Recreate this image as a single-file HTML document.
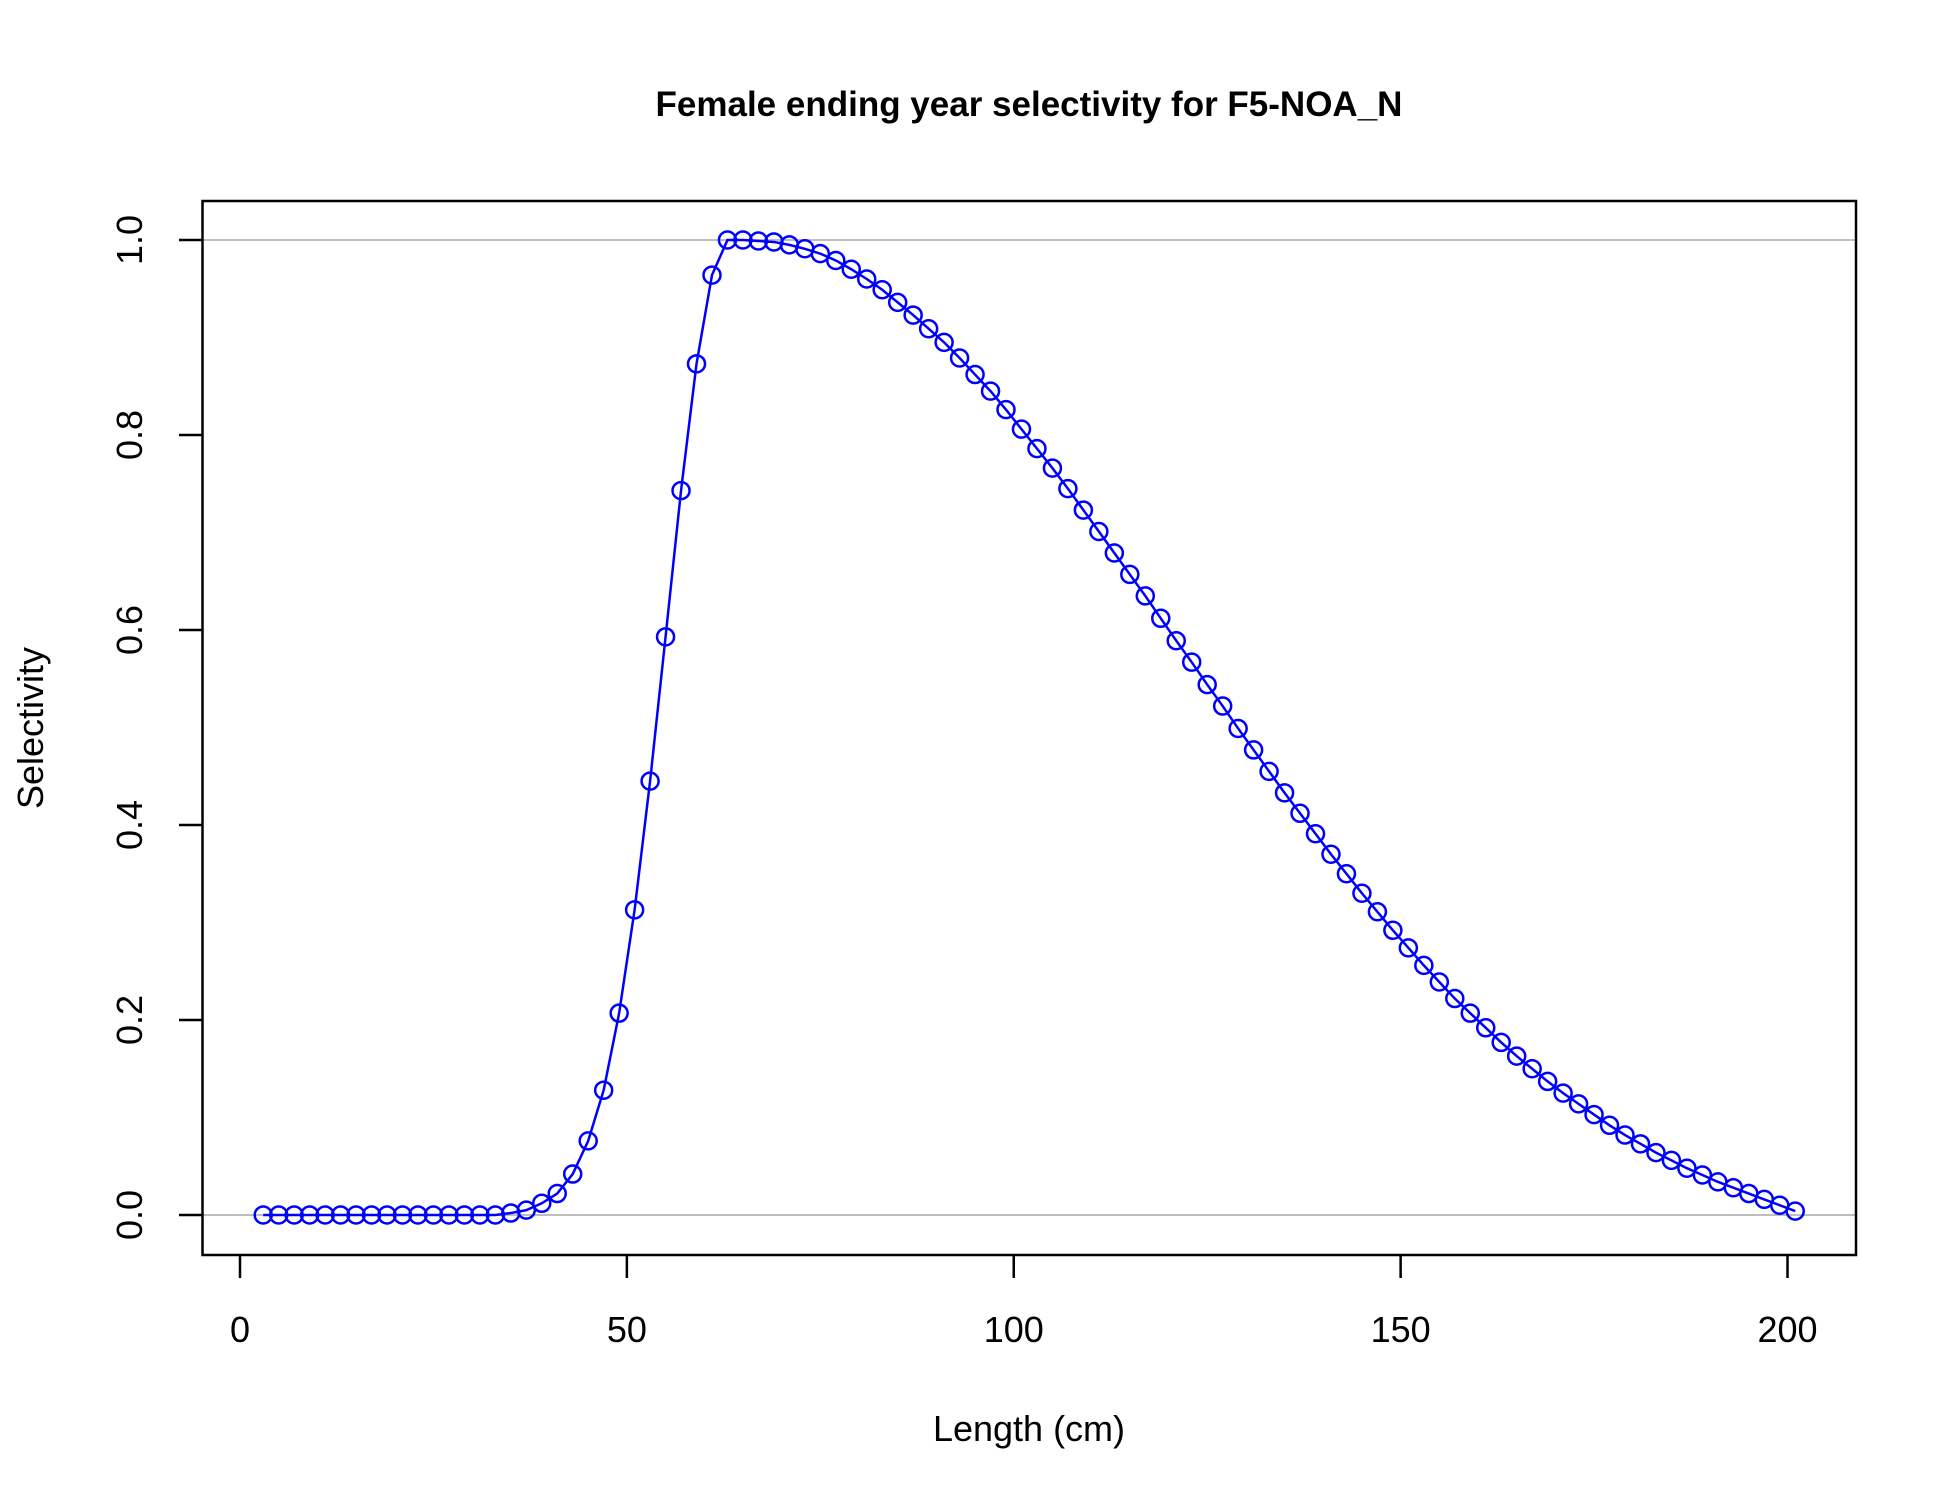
<!DOCTYPE html>
<html><head><meta charset="utf-8"><style>body{margin:0;background:#fff}svg{display:block}text{font-family:"Liberation Sans",Arial,sans-serif}</style></head>
<body>
<svg id="chart" width="1950" height="1500" xmlns="http://www.w3.org/2000/svg">
<rect width="1950" height="1500" fill="#fff"/>
<text x="1029" y="116" text-anchor="middle" font-size="35" font-weight="bold">Female ending year selectivity for F5-NOA_N</text>
<g id="grid"></g><g id="axes"></g><g id="series"></g>
<rect x="202.5" y="201" width="1653.5" height="1054" fill="none" stroke="#000" stroke-width="2.5"/>
<text x="1029" y="1441" text-anchor="middle" font-size="36">Length (cm)</text>
<text transform="translate(43,728) rotate(-90)" text-anchor="middle" font-size="36">Selectivity</text>
</svg>
<script>
const lengths=[];for(let l=3;l<=201;l+=2)lengths.push(l);
const selectivity=[0,0,0,0,0,0,0,0,0,0,0,0,0,0,0,0,0.002,0.005,0.012,0.022,0.042,0.076,0.128,0.207,0.313,0.445,0.593,0.743,0.873,0.964,1.0,1.0,0.999,0.998,0.995,0.991,0.986,0.979,0.970,0.960,0.949,0.936,0.923,0.909,0.895,0.879,0.862,0.845,0.826,0.806,0.786,0.766,0.745,0.723,0.701,0.679,0.657,0.635,0.612,0.589,0.567,0.544,0.522,0.499,0.477,0.455,0.433,0.412,0.391,0.370,0.350,0.330,0.311,0.292,0.274,0.256,0.239,0.222,0.207,0.192,0.177,0.163,0.150,0.137,0.125,0.114,0.103,0.092,0.082,0.073,0.064,0.056,0.048,0.041,0.034,0.028,0.022,0.016,0.010,0.004,0.0];
const xTicks=[0,50,100,150,200];
const yTicks=[0,0.2,0.4,0.6,0.8,1.0];
const yTickLabels=["0.0","0.2","0.4","0.6","0.8","1.0"];
const hLines=[0,1];
const NS="http://www.w3.org/2000/svg";
const X=v=>240+v*(1787.5-240)/200;
const Y=v=>1215-v*(1215-240);
function mk(tag,at,parent){const e=document.createElementNS(NS,tag);for(const k in at)e.setAttribute(k,at[k]);parent.appendChild(e);return e;}
const grid=document.getElementById('grid'),axes=document.getElementById('axes'),series=document.getElementById('series');
hLines.forEach(h=>{const l=mk('line',{x1:202.5,x2:1856,y1:Y(h),y2:Y(h),stroke:'#bebebe','stroke-width':2},grid);

});
xTicks.forEach(t=>{const l=mk('line',{x1:X(t),x2:X(t),y1:1255,y2:1278,stroke:'#000','stroke-width':2.5},axes);


const tx=mk('text',{x:X(t),y:1342,'text-anchor':'middle','font-size':36},axes);tx.textContent=t;

});
yTicks.forEach((t,i)=>{const l=mk('line',{x1:179,x2:202.5,y1:Y(t),y2:Y(t),stroke:'#000','stroke-width':2.5},axes);


const tx=mk('text',{transform:`translate(142,${Y(t)}) rotate(-90)`,'text-anchor':'middle','font-size':36},axes);tx.textContent=yTickLabels[i];

});
const pts=lengths.map((l,i)=>X(l)+','+Y(selectivity[i])).join(' ');
const pl=mk('polyline',{points:pts,fill:'none',stroke:'#0000ff','stroke-width':2.5},series);


lengths.forEach((l,i)=>{const c=mk('circle',{cx:X(l),cy:Y(selectivity[i]),r:8.5,fill:'none',stroke:'#0000ff','stroke-width':2.5},series);

});
</script>
</body></html>
